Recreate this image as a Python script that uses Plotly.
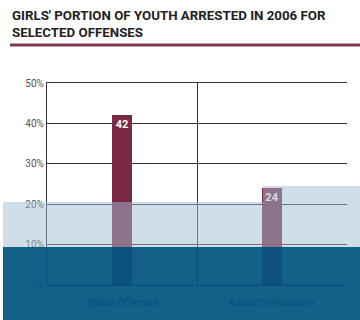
import plotly.graph_objects as go

categories = ["Status Offenses", "Assaults/Violations"]
girls_share = [42, 24]
bar_labels = ["42", "24"]
y_ticks = [0, 10, 20, 30, 40, 50]
y_tick_text = ["0%", "10%", "20%", "30%", "40%", "50%"]
title_text = "GIRLS' PORTION OF YOUTH ARRESTED IN 2006 FOR<br>SELECTED OFFENSES"

FONT = "Roboto, sans-serif"

fig = go.Figure()
fig.add_trace(go.Bar(
    x=categories, y=girls_share, width=0.13,
    marker=dict(color="#7a2846", line=dict(width=0)),
    text=bar_labels, textposition="inside", insidetextanchor="end",
    textfont=dict(color="white", size=11, family=FONT, weight="bold"),
    hoverinfo="skip",
))

W, H = 360, 320
L, R, T, B = 47, 13, 83, 35
pw, ph = W - L - R, H - T - B

def px(x):
    return (x - L) / pw

def py(y):
    return (H - B - y) / ph

shapes = [
    dict(type="line", xref="paper", yref="paper", x0=px(10), x1=px(360), y0=py(45), y1=py(45),
         line=dict(color="#7d3a4e", width=3), layer="above"),
    dict(type="rect", xref="paper", yref="paper", x0=px(3), x1=px(360), y0=py(247), y1=py(202),
         fillcolor="#9fbdd2", opacity=0.5, line=dict(width=0), layer="above"),
    dict(type="rect", xref="paper", yref="paper", x0=px(263), x1=px(360), y0=py(202), y1=py(186),
         fillcolor="#9fbdd2", opacity=0.5, line=dict(width=0), layer="above"),
    dict(type="rect", xref="paper", yref="paper", x0=px(3), x1=px(360), y0=py(320), y1=py(247),
         fillcolor="#02557f", opacity=0.93, line=dict(width=0), layer="above"),
]

fig.update_layout(
    width=W, height=H,
    margin=dict(l=L, r=R, t=T, b=B),
    paper_bgcolor="white", plot_bgcolor="white",
    showlegend=False,
    annotations=[dict(
        text=title_text, xref="paper", yref="paper", x=px(10), y=py(6),
        xanchor="left", yanchor="top", align="left", showarrow=False,
        font=dict(family=FONT, size=13.3, color="#222222", weight="bold"),
    )],
    xaxis=dict(
        tickson="boundaries", showgrid=True, gridcolor="#33333f", gridwidth=1.2,
        showline=True, linecolor="#33333f", linewidth=1.2, mirror=True, ticks="",
        ticklabelstandoff=8,
        tickfont=dict(family=FONT, size=10, color="#2a1030"),
    ),
    yaxis=dict(
        range=[0, 50], tickvals=y_ticks, ticktext=y_tick_text,
        showgrid=True, gridcolor="#33333f", gridwidth=1.2,
        showline=True, linecolor="#33333f", linewidth=1.2, zeroline=False, ticks="",
        tickfont=dict(family=FONT, size=10, color="#555555"),
    ),
    shapes=shapes,
    bargap=0,
)

fig.write_html("out.html", config={"displayModeBar": False},
               post_script="document.body.style.margin='0';document.body.style.overflow='hidden';")
